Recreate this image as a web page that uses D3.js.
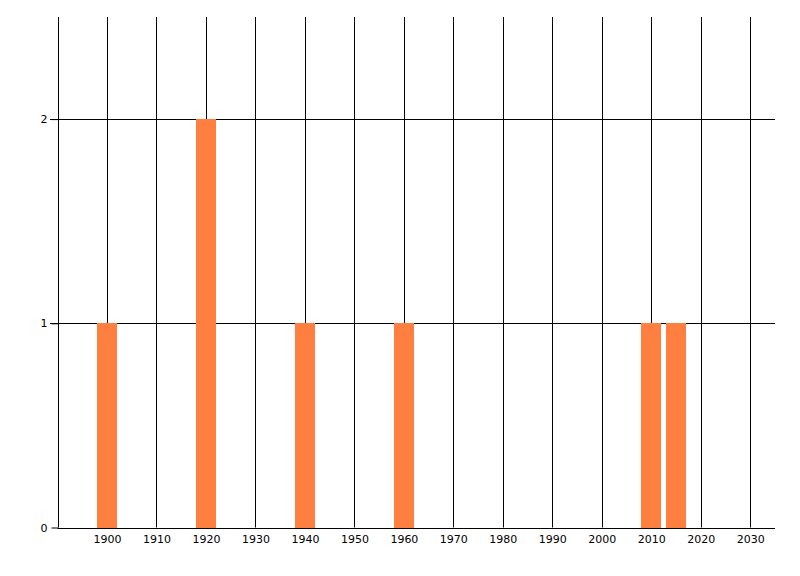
<!DOCTYPE html>
<html><head><meta charset="utf-8">
<script src="https://cdn.jsdelivr.net/npm/d3@7"></script>
<style>body{margin:0;background:#fff}svg{display:block}text{font-family:"DejaVu Sans",sans-serif;font-size:11px;fill:#000}</style>
</head><body><svg id="c" width="800" height="576"></svg>
<script>
const years = [1900, 1920, 1940, 1960, 2010, 2015];
const counts = [1, 2, 1, 1, 1, 1];
const xTicks = [1900,1910,1920,1930,1940,1950,1960,1970,1980,1990,2000,2010,2020,2030];
const yTicks = [0,1,2];
const binWidth = 4;

const svg = d3.select("#c");
const x = d3.scaleLinear().domain([1890, 2035]).range([57.5, 775]);
const y = d3.scaleLinear().domain([0, 2.5]).range([527.5, 17]);

// vertical grid
svg.append("g").selectAll("line").data(xTicks).join("line")
  .attr("x1", d => Math.round(x(d)) + 0.5).attr("x2", d => Math.round(x(d)) + 0.5)
  .attr("y1", y(2.5)).attr("y2", y(0)).attr("stroke", "#000");

// horizontal grid
svg.append("g").selectAll("line").data(yTicks.filter(d => d > 0)).join("line")
  .attr("x1", 50).attr("x2", 775)
  .attr("y1", d => Math.round(y(d)) + 0.5).attr("y2", d => Math.round(y(d)) + 0.5).attr("stroke", "#000");

// bars
svg.append("g").selectAll("rect").data(years).join("rect")
  .attr("x", (d) => Math.round(x(d - binWidth / 2)))
  .attr("width", (d) => Math.round(x(d + binWidth / 2)) - Math.round(x(d - binWidth / 2)))
  .attr("y", (d, i) => Math.round(y(counts[i])))
  .attr("height", (d, i) => Math.round(y(0)) - Math.round(y(counts[i])))
  .attr("fill", "#FF7F40");

// axes
const xAxis = d3.axisBottom(x).tickValues(xTicks).tickFormat(d3.format("d")).tickSize(0).tickPadding(7);
const gx = svg.append("g").attr("transform", `translate(0,${Math.round(y(0)) + 0.5})`).call(xAxis);
gx.select(".domain").attr("d", `M${x(1890)},0H775`);

const yAxis = d3.axisLeft(y).tickValues(yTicks).tickFormat(d3.format("d")).tickSize(7).tickPadding(4);
const gy = svg.append("g").attr("transform", `translate(${Math.round(x(1890)) + 0.5},0)`).call(yAxis);
gy.select(".domain").attr("d", `M0,${y(2.5)}V${y(0)}`);
svg.selectAll(".tick text").style("font-family", "DejaVu Sans, sans-serif").style("font-size", "11px");
</script></body></html>
